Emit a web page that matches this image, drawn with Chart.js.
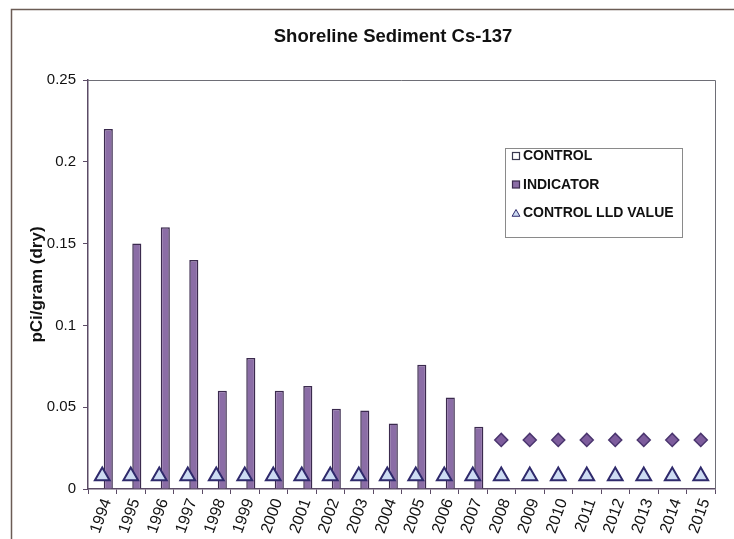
<!DOCTYPE html>
<html>
<head>
<meta charset="utf-8">
<title>Shoreline Sediment Cs-137</title>
<script src="https://cdn.jsdelivr.net/npm/chart.js@4.4.1/dist/chart.umd.min.js"></script>
<style>
  html, body { margin: 0; padding: 0; background: #fff; }
  canvas { display: block; }
</style>
</head>
<body>
<canvas id="chart" width="734" height="539"></canvas>
<script>
// ====== data ======
const chartTitle = "Shoreline Sediment Cs-137";
const yAxisTitle = "pCi/gram (dry)";
const years = ["1994","1995","1996","1997","1998","1999","2000","2001","2002","2003","2004",
               "2005","2006","2007","2008","2009","2010","2011","2012","2013","2014","2015"];
const yTicks = [0, 0.05, 0.1, 0.15, 0.2, 0.25];

// CONTROL: no detected values
const controlValues = [null,null,null,null,null,null,null,null,null,null,null,
                       null,null,null,null,null,null,null,null,null,null,null];
const indicatorValues = [0.22, 0.15, 0.16, 0.14, 0.06, 0.08, 0.06, 0.063, 0.049, 0.048, 0.04,
                         0.076, 0.056, 0.038, null, null, null, null, null, null, null, null];
const controlLldValues = [0.008,0.008,0.008,0.008,0.008,0.008,0.008,0.008,0.008,0.008,0.008,
                          0.008,0.008,0.008,0.008,0.008,0.008,0.008,0.008,0.008,0.008,0.008];
const indicatorLldValues = [null,null,null,null,null,null,null,null,null,null,null,
                            null,null,null,0.03,0.03,0.03,0.03,0.03,0.03,0.03,0.03];

// ====== colours ======
const barFill   = "#8b6da6";
const barEdge   = "#3b2a4e";
const triFill   = "#cddcf3";
const triEdge   = "#2f2a6c";
const diaFill   = "#7d5c9c";
const diaEdge   = "#4a356e";
const axisColor = "#5b4b66";
const fontFam   = "'Liberation Sans', Arial, sans-serif";

// titulo + marco exterior
const framePlugin = {
  id: "frame",
  beforeDraw(chart) {
    const ctx = chart.ctx;
    ctx.save();
    ctx.fillStyle = "#fff";
    ctx.fillRect(0, 0, chart.width, chart.height);
    ctx.strokeStyle = "#6b5c55";
    ctx.lineWidth = 1.5;
    ctx.strokeRect(11.5, 9.5, 900, 700);
    ctx.restore();
  },
  afterDraw(chart) {
    const ctx = chart.ctx;
    const a = chart.chartArea;
    ctx.save();
    ctx.strokeStyle = "#6e6e76";
    ctx.lineWidth = 1;
    ctx.beginPath();
    ctx.moveTo(a.left, a.top + 0.5);
    ctx.lineTo(a.right + 0.5, a.top + 0.5);
    ctx.lineTo(a.right + 0.5, a.bottom);
    ctx.stroke();
    ctx.fillStyle = "#111";
    ctx.font = "bold 18.5px " + fontFam;
    ctx.textAlign = "center";
    ctx.textBaseline = "middle";
    ctx.fillText(chartTitle, 393, 37);
    ctx.restore();
  }
};

// leyenda dentro del area del grafico
const boxLegendPlugin = {
  id: "boxLegend",
  afterDraw(chart) {
    const ctx = chart.ctx;
    const x = 505, y = 148, w = 177, h = 89;
    ctx.save();
    ctx.fillStyle = "#fff";
    ctx.fillRect(x, y, w, h);
    ctx.strokeStyle = "#8a8a8a";
    ctx.lineWidth = 1;
    ctx.strokeRect(x + 0.5, y + 0.5, w, h);
    ctx.font = "bold 14px " + fontFam;
    ctx.textBaseline = "middle";
    ctx.textAlign = "left";
    const items = chart.data.datasets.filter(ds => !ds.hideInLegend);
    items.forEach((ds, i) => {
      const cy = 156 + i * 28.5;
      const mx = 516;
      if (ds.pointStyle === "triangle") {
        ctx.fillStyle = ds.pointBackgroundColor;
        ctx.strokeStyle = ds.pointBorderColor;
        ctx.lineWidth = 1;
        ctx.beginPath();
        const r = 4.5;
        ctx.moveTo(mx, cy + 1 - r);
        ctx.lineTo(mx + r * 0.866, cy + 1 + r / 2);
        ctx.lineTo(mx - r * 0.866, cy + 1 + r / 2);
        ctx.closePath();
        ctx.fill();
        ctx.stroke();
      } else {
        ctx.fillStyle = ds.backgroundColor;
        ctx.strokeStyle = ds.borderColor;
        ctx.lineWidth = 1.2;
        ctx.fillRect(mx - 3.5, cy - 3.5, 7, 7);
        ctx.strokeRect(mx - 3.5, cy - 3.5, 7, 7);
      }
      ctx.fillStyle = "#111";
      ctx.fillText(ds.label, 523, cy + 0.5);
    });
    ctx.restore();
  }
};

new Chart(document.getElementById("chart"), {
  type: "bar",
  data: {
    labels: years,
    datasets: [
      {
        label: "CONTROL",
        data: controlValues,
        backgroundColor: "#ffffff",
        borderColor: "#3a3a50",
        borderWidth: 1.5,
        categoryPercentage: 0.85,
        barPercentage: 0.75,
        order: 3
      },
      {
        label: "INDICATOR",
        data: indicatorValues,
        backgroundColor: barFill,
        borderColor: barEdge,
        borderWidth: 1.5,
        categoryPercentage: 0.85,
        barPercentage: 0.75,
        order: 3
      },
      {
        type: "line",
        label: "CONTROL LLD VALUE",
        data: controlLldValues,
        showLine: false,
        pointStyle: "triangle",
        pointRadius: 8.5,
        pointBorderWidth: 2,
        pointBackgroundColor: triFill,
        pointBorderColor: triEdge,
        backgroundColor: triFill,
        borderColor: triEdge,
        order: 1
      },
      {
        type: "line",
        label: "INDICATOR LLD VALUE",
        hideInLegend: true,
        data: indicatorLldValues,
        showLine: false,
        pointStyle: "rectRot",
        pointRadius: 6.5,
        pointBorderWidth: 1.5,
        pointBackgroundColor: diaFill,
        pointBorderColor: diaEdge,
        backgroundColor: diaFill,
        borderColor: diaEdge,
        order: 2
      }
    ]
  },
  options: {
    responsive: false,
    animation: false,
    devicePixelRatio: 1,
    layout: { padding: { top: 80, right: 19, left: 0, bottom: 0 } },
    plugins: {
      legend: { display: false },
      title: { display: false },
      tooltip: { enabled: false }
    },
    scales: {
      x: {
        grid: { offset: true, drawOnChartArea: false, drawTicks: true, tickLength: 5, color: axisColor },
        border: { display: true, color: axisColor, width: 1.5 },
        ticks: {
          color: "#111",
          font: { family: fontFam, size: 16 },
          minRotation: 70, maxRotation: 70,
          autoSkip: false,
          labelOffset: 5,
          padding: 2
        },
        afterFit(scale) { scale.height = 50; }
      },
      y: {
        min: 0,
        max: 0.25,
        afterBuildTicks(scale) { scale.ticks = yTicks.map(v => ({ value: v })); },
        grid: { drawOnChartArea: false, drawTicks: true, tickLength: 5, color: axisColor },
        border: { display: true, color: axisColor, width: 1.5 },
        ticks: {
          color: "#111",
          font: { family: fontFam, size: 15 },
          padding: 7,
          callback: v => String(Math.round(v * 100) / 100)
        },
        title: {
          display: true,
          text: yAxisTitle,
          color: "#111",
          font: { family: fontFam, size: 17, weight: "bold" },
          padding: { top: 27, bottom: 0 }
        },
        afterFit(scale) { scale.width = 88; }
      }
    }
  },
  plugins: [framePlugin, boxLegendPlugin]
});
</script>
</body>
</html>
